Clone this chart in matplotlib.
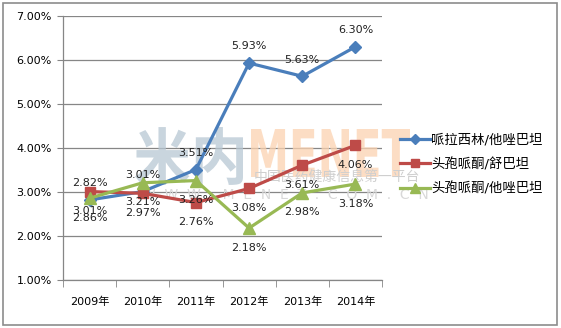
import matplotlib
matplotlib.use("Agg")
import matplotlib.pyplot as plt
from matplotlib.patches import Rectangle, PathPatch
from matplotlib.textpath import TextPath
from matplotlib.font_manager import FontProperties
from matplotlib.transforms import Affine2D
from matplotlib.ticker import FuncFormatter, FixedLocator

plt.rcParams['font.family'] = ['DejaVu Sans', 'Noto Sans CJK SC']

years = ['2009年', '2010年', '2011年', '2012年', '2013年', '2014年']
series_names = ['哌拉西林/他唑巴坦', '头孢哌酮/舒巴坦', '头孢哌酮/他唑巴坦']
pip_tazo = [2.82, 3.01, 3.51, 5.93, 5.63, 6.30]
cef_sul = [3.01, 2.97, 2.76, 3.08, 3.61, 4.06]
cef_tazo = [2.86, 3.21, 3.26, 2.18, 2.98, 3.18]

colors = ['#4a7ebb', '#be4b48', '#98b954']
markers = ['D', 's', '^']
msizes = [6, 7.5, 8]
label_offsets = [12, -14, -14]

W, H = 561, 328
fig = plt.figure(figsize=(W / 100, H / 100), dpi=100)
fig.patches.append(Rectangle((3 / W, 3 / H), 554 / W, 322 / H,
                             transform=fig.transFigure, fill=False,
                             edgecolor='#8c8c8c', linewidth=1.2))

ax = fig.add_axes([63 / W, 1 - 280 / H, 319 / W, 264 / H])


def stamp(text, left, top, width, height, color, family):
    # squeeze a text outline into a pixel box (y measured from the top)
    path = TextPath((0, 0), text, size=1, prop=FontProperties(family=family, weight='bold'))
    ext = path.get_extents()
    tr = (Affine2D().translate(-ext.x0, -ext.y0)
          .scale(width / ext.width, height / ext.height)
          .translate(left, H - top - height))
    patch = PathPatch(path, transform=tr, facecolor=color, edgecolor='none',
                      alpha=0.75, zorder=1, clip_on=False)
    ax.add_artist(patch)


# faint site watermark behind the lines
stamp('米内', 135, 127, 108, 58, '#b7c7d3', 'Noto Sans CJK SC')
stamp('MENET', 251, 129, 159, 48, '#fbd2b0', 'DejaVu Sans')
ax.text(0.86, 0.39, '中国医药健康信息第一平台', transform=ax.transAxes, fontsize=10,
        color='#cfcfcf', ha='center', va='center', zorder=1, family=['Noto Sans CJK SC'])
ax.text(0.696, 0.322, 'W  W  W  .  M  E  N  E  T  .  C  O  M  .  C  N',
        transform=ax.transAxes, fontsize=10, color='#d8d8d8', ha='center',
        va='center', zorder=1)

x = list(range(len(years)))
for vals, name, c, m, ms, off in zip([pip_tazo, cef_sul, cef_tazo], series_names,
                                     colors, markers, msizes, label_offsets):
    ax.plot(x, vals, color=c, linewidth=2.3, marker=m, markersize=ms,
            markeredgecolor=c, label=name, zorder=3, clip_on=False)
    for xi, v in zip(x, vals):
        ax.annotate(f'{v:.2f}%', (xi, v), xytext=(0, off), textcoords='offset points',
                    ha='center', va='center', fontsize=8, color='#222222', zorder=4)

ax.set_xlim(-0.5, 5.5)
ax.set_ylim(1, 7)
ax.set_yticks([1, 2, 3, 4, 5, 6, 7])
ax.yaxis.set_major_formatter(FuncFormatter(lambda v, p: f'{v:.2f}%'))
ax.set_xticks(x)
ax.set_xticklabels(years)
ax.xaxis.set_minor_locator(FixedLocator([i - 0.5 for i in range(len(years) + 1)]))
ax.tick_params(axis='x', which='major', length=0, pad=12, labelsize=8)
ax.tick_params(axis='x', which='minor', length=5, color='#868686', direction='out')
ax.tick_params(axis='y', length=4, color='#868686', labelsize=8, pad=4)
ax.grid(axis='y', color='#868686', linewidth=0.9)
ax.set_axisbelow(True)
for s in ['top', 'right']:
    ax.spines[s].set_visible(False)
for s in ['left', 'bottom']:
    ax.spines[s].set_color('#868686')
    ax.spines[s].set_linewidth(0.9)

fig.legend(loc='upper left', bbox_to_anchor=(395 / W, 1 - 128 / H),
           frameon=False, fontsize=9.6, handlelength=2.2, handletextpad=0.1,
           labelspacing=0.85, borderaxespad=0, markerscale=0.85)

fig.savefig('out.png', dpi=100)
